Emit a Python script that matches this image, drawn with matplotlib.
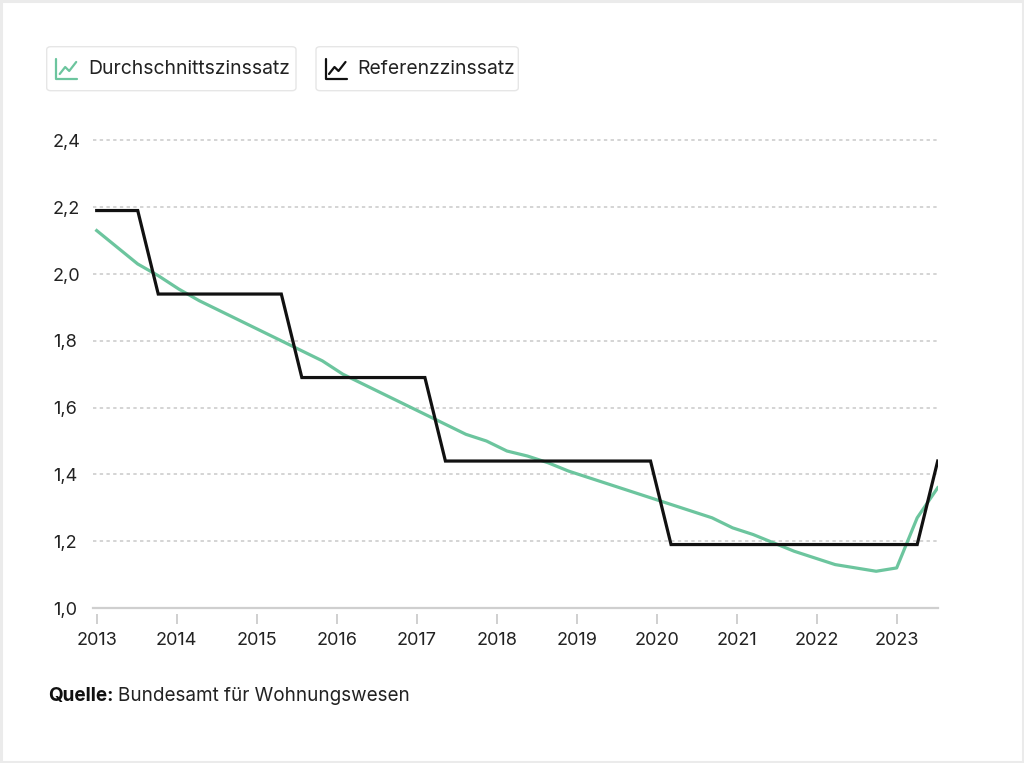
import numpy as np
import matplotlib
matplotlib.use("Agg")
import matplotlib.pyplot as plt
from matplotlib.patches import FancyBboxPatch, Rectangle
from matplotlib.lines import Line2D

# ---- data (quarterly observations, 2013 Q1 .. 2023 Q3) ----
durchschnitt = [2.13, 2.08, 2.03, 1.995, 1.955, 1.92, 1.89, 1.86, 1.83, 1.80,
                1.77, 1.74, 1.70, 1.67, 1.64, 1.61, 1.58, 1.55, 1.52, 1.50,
                1.47, 1.455, 1.435, 1.41, 1.39, 1.37, 1.35, 1.33, 1.31, 1.29,
                1.27, 1.24, 1.22, 1.195, 1.17, 1.15, 1.13, 1.12, 1.11, 1.12,
                1.27, 1.36]
referenz = ([2.19] * 3 + [1.94] * 7 + [1.69] * 7 + [1.44] * 11 +
            [1.19] * 13 + [1.44])
years = [2013, 2014, 2015, 2016, 2017, 2018, 2019, 2020, 2021, 2022, 2023]
yticks = [1.0, 1.2, 1.4, 1.6, 1.8, 2.0, 2.2, 2.4]
ytick_labels = ["1,0", "1,2", "1,4", "1,6", "1,8", "2,0", "2,2", "2,4"]
series_names = ["Durchschnittszinssatz", "Referenzzinssatz"]
source_bold = "Quelle:"
source_text = "Bundesamt für Wohnungswesen"

GREEN = "#6cc59e"
BLACK = "#111111"
GRID = "#c9c9c9"
FONT = "Inter"
plt.rcParams["font.family"] = [FONT, "DejaVu Sans"]

W, H = 1024, 763
fig = plt.figure(figsize=(W / 100, H / 100), dpi=100)
fig.patch.set_facecolor("white")

def fx(px):
    return px / W

def fy(py):
    return 1 - py / H

# outer card border
fig.patches.append(Rectangle((fx(1), fy(762)), fx(1022), 761 / H, transform=fig.transFigure,
                             fill=False, edgecolor="#ebebeb", linewidth=2.2))

left_px, right_px = 93.3, 938.3
top_px, bot_px = 140.4, 608.0
ax = fig.add_axes([fx(left_px), fy(bot_px), fx(right_px - left_px), (bot_px - top_px) / H])

for s in ["top", "right", "left"]:
    ax.spines[s].set_visible(False)
ax.spines["bottom"].set_position(("outward", 4.5))
ax.spines["bottom"].set_visible(False)

x = np.arange(len(durchschnitt))
ax.plot(x, durchschnitt, color=GREEN, lw=2.3, solid_joinstyle="round", zorder=3)
ax.plot(x, referenz, color=BLACK, lw=2.3, solid_joinstyle="miter", zorder=4)

step_px = 20.51
year_px = 80.0
ax.set_xlim(-(96.7 - left_px) / step_px, (len(x) - 1) + (right_px - 937.7) / step_px)
ax.set_ylim(1.0, 2.4)

tick_pos = [(yr - years[0]) * year_px / step_px for yr in years]
ax.set_xticks(tick_pos)
ax.set_xticklabels([str(y) for y in years], fontsize=13, color="#222222")
ax.set_yticks(yticks)
ax.set_yticklabels(ytick_labels, fontsize=13, color="#222222", ha="left")

ax.axhline(1.0, color="#cfcfcf", lw=1.6, zorder=2, clip_on=False)
for v in yticks[1:]:
    ax.axhline(v, color=GRID, lw=1.1, ls=(0, (2.2, 2.2)), zorder=1, clip_on=False)

ax.tick_params(axis="x", length=7.5, width=1.3, color="#cccccc", pad=5)
ax.tick_params(axis="y", length=0, pad=29)

# ---- custom legend ----
def legend_box(x0, x1, color, label):
    y0, y1 = 46.7, 90.7
    box = FancyBboxPatch((fx(x0), fy(y1)), fx(x1 - x0), (y1 - y0) / H,
                         boxstyle="round,pad=0,rounding_size=0.004",
                         transform=fig.transFigure, facecolor="white",
                         edgecolor="#e6e6e6", linewidth=1.0)
    fig.patches.append(box)
    ix = x0 + 9.5
    # icon axes (L shape)
    fig.lines.append(Line2D([fx(ix), fx(ix), fx(ix + 21)], [fy(58.5), fy(78.5), fy(78.5)],
                            transform=fig.transFigure, color=color, lw=1.6,
                            solid_joinstyle="round", solid_capstyle="round"))
    fig.lines.append(Line2D([fx(ix + 3.5), fx(ix + 9), fx(ix + 13), fx(ix + 20)],
                            [fy(74), fy(67), fy(71), fy(62)],
                            transform=fig.transFigure, color=color, lw=1.6,
                            solid_joinstyle="round", solid_capstyle="round"))
    fig.text(fx(ix + 32), fy(69.5), label, fontsize=13.9, color="#222222",
             ha="left", va="center")

legend_box(46.7, 296.0, GREEN, series_names[0])
legend_box(316.0, 518.3, BLACK, series_names[1])

# ---- source ----
t = fig.text(fx(48.3), fy(696), source_bold, fontsize=13.6, fontweight="bold",
             color="#111111", ha="left", va="center")
fig.canvas.draw()
bb = t.get_window_extent()
fig.text(bb.x1 / W + fx(4), fy(696), source_text, fontsize=13.6, color="#222222",
         ha="left", va="center")

fig.savefig("out.png", dpi=100, facecolor="white")
